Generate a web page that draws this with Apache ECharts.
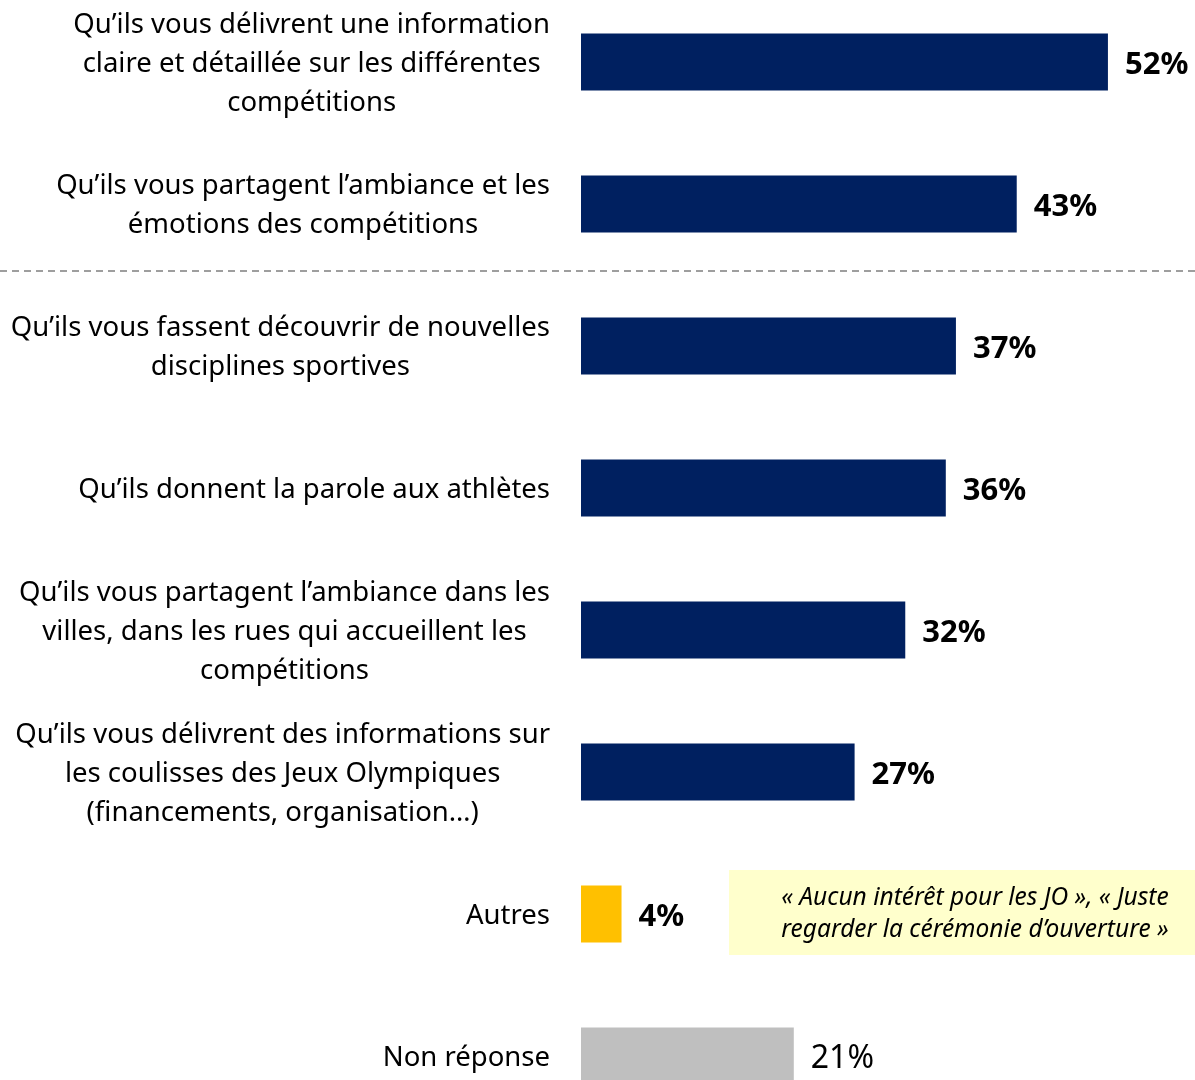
<!DOCTYPE html>
<html>
<head>
<meta charset="utf-8">
<script src="https://cdn.jsdelivr.net/npm/echarts@6/dist/echarts.min.js"></script>
<style>
  html, body { margin: 0; padding: 0; background: #fff; }
  #chart { width: 1195px; height: 1080px; }
</style>
</head>
<body>
<div id="chart"></div>
<script>
// libellés (retours à la ligne comme dans l'original)
var categories = [
  'Qu’ils vous délivrent une information\nclaire et détaillée sur les différentes\ncompétitions',
  'Qu’ils vous partagent l’ambiance et les\némotions des compétitions',
  'Qu’ils vous fassent découvrir de nouvelles\ndisciplines sportives',
  'Qu’ils donnent la parole aux athlètes',
  'Qu’ils vous partagent l’ambiance dans les\nvilles, dans les rues qui accueillent les\ncompétitions',
  'Qu’ils vous délivrent des informations sur\nles coulisses des Jeux Olympiques\n(financements, organisation…)',
  'Autres',
  'Non réponse'
];
var values = [52, 43, 37, 36, 32, 27, 4, 21];
var barColors = ['#002060', '#002060', '#002060', '#002060', '#002060', '#002060', '#FFC000', '#BFBFBF'];
var boldLabel = [true, true, true, true, true, true, true, false];
var noteLines = ['« Aucun intérêt pour les JO », « Juste', 'regarder la cérémonie d’ouverture »'];

var FONT = '"Noto Sans", "DejaVu Sans", sans-serif';

var chart = echarts.init(document.getElementById('chart'), null, {renderer: 'canvas'});

var seriesData = values.map(function (v, i) {
  return {
    value: v,
    itemStyle: {color: barColors[i]},
    label: {
      fontWeight: boldLabel[i] ? 'bold' : 'normal',
      fontSize: boldLabel[i] ? 31 : 32
    }
  };
});

var option = {
  backgroundColor: '#fff',
  animation: false,
  grid: {
    left: 581,
    top: -9,
    width: 608,
    height: 1136,
    outerBoundsMode: 'none'
  },
  xAxis: {
    type: 'value',
    min: 0,
    max: 60,
    show: false
  },
  yAxis: {
    type: 'category',
    inverse: true,
    data: categories,
    axisLine: {show: false},
    axisTick: {show: false},
    splitLine: {show: false},
    axisLabel: {
      margin: 31,
      align: 'right',
      padding: [4, 0, 0, 0],
      formatter: function (val) {
        return val.split('\n').map(function (l) { return '{c|' + l + '}'; }).join('\n');
      },
      rich: {
        c: {
          align: 'center',
          fontFamily: FONT,
          fontSize: 27.5,
          lineHeight: 39,
          color: '#000'
        }
      }
    }
  },
  series: [
    {
      type: 'bar',
      barWidth: 57,
      data: seriesData,
      label: {
        show: true,
        position: 'right',
        distance: 17,
        offset: [0, 3],
        formatter: '{c}%',
        fontFamily: FONT,
        fontSize: 31,
        color: '#000'
      }
    }
  ],
  graphic: [
    // séparateur pointillé
    {
      type: 'line',
      shape: {x1: 0, y1: 271, x2: 1195, y2: 271},
      style: {stroke: '#7f7f7f', lineWidth: 1.5, lineDash: [7, 5]}
    },
    // encadré verbatim "Autres"
    {
      type: 'rect',
      shape: {x: 729, y: 870, width: 466, height: 85},
      style: {fill: '#FFFFCC'}
    },
    {
      type: 'text',
      x: 975,
      y: 914,
      style: {
        text: noteLines.join('\n'),
        fontFamily: FONT,
        fontStyle: 'italic',
        fontSize: 24.5,
        lineHeight: 32,
        fill: '#000',
        align: 'center',
        verticalAlign: 'middle'
      }
    }
  ]
};

chart.setOption(option);
</script>
</body>
</html>
